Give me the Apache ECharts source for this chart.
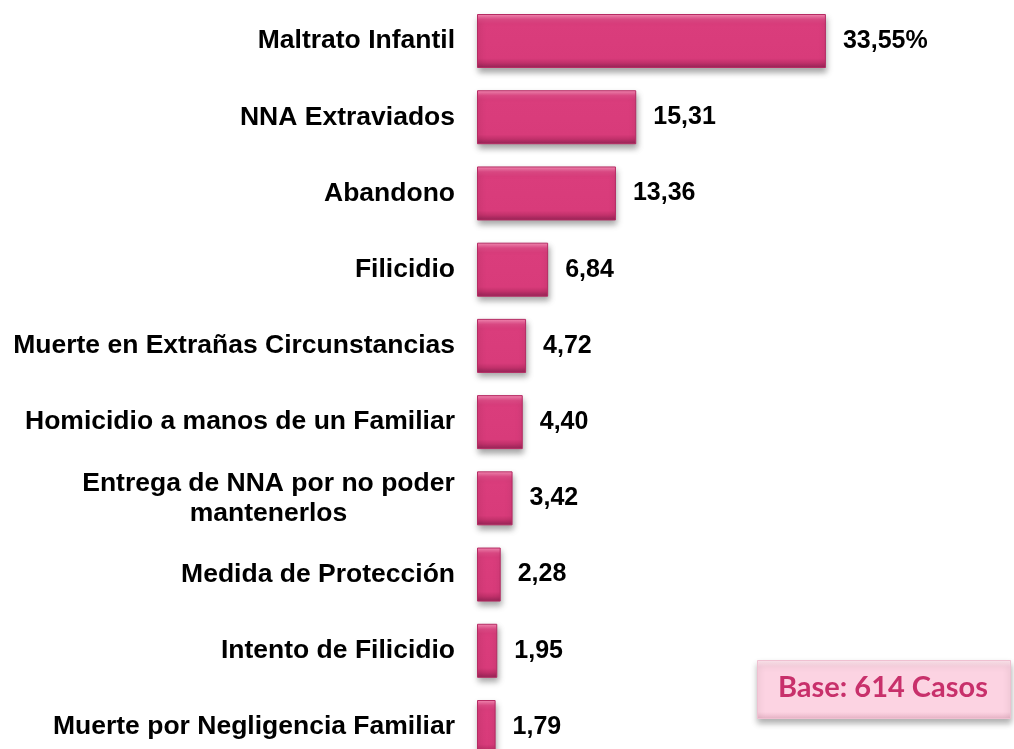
<!DOCTYPE html>
<html>
<head>
<meta charset="utf-8">
<script src="https://cdn.jsdelivr.net/npm/echarts@6/dist/echarts.min.js"></script>
<style>
  html, body { margin: 0; padding: 0; background: #ffffff; }
  #main { width: 1014px; height: 749px; }
</style>
</head>
<body>
<div id="main"></div>
<script>
// datos
var categorias = [
    'Maltrato Infantil',
    'NNA Extraviados',
    'Abandono',
    'Filicidio',
    'Muerte en Extrañas Circunstancias',
    'Homicidio a manos de un Familiar',
    'Entrega de NNA por no poder\nmantenerlos',
    'Medida de Protección',
    'Intento de Filicidio',
    'Muerte por Negligencia Familiar'
];
var valores = [33.55, 15.31, 13.36, 6.84, 4.72, 4.40, 3.42, 2.28, 1.95, 1.79];
var baseTexto = 'Base: 614 Casos';

var chart = echarts.init(document.getElementById('main'));

var barColor = new echarts.graphic.LinearGradient(0, 0, 0, 1, [
    { offset: 0, color: '#f78db6' },
    { offset: 0.1, color: '#e24b88' },
    { offset: 0.18, color: '#da3d7c' },
    { offset: 0.82, color: '#d83b7a' },
    { offset: 0.9, color: '#c2316b' },
    { offset: 1, color: '#952456' }
]);

var fuente = 'Liberation Sans, Arial, sans-serif';

var option = {
    backgroundColor: '#ffffff',
    animation: false,
    grid: {
        left: 477,
        top: 41,
        width: 416,
        height: 686,
        containLabel: false
    },
    xAxis: {
        type: 'value',
        min: 0,
        max: 40,
        show: false
    },
    yAxis: {
        type: 'category',
        inverse: true,
        boundaryGap: false,
        data: categorias,
        axisLine: { show: false },
        axisTick: { show: false },
        splitLine: { show: false },
        axisLabel: {
            margin: 22,
            color: '#000000',
            fontFamily: fuente,
            fontWeight: 'bold',
            fontSize: 26.5,
            lineHeight: 30,
            formatter: function (v) {
                if (v.indexOf('\n') > -1) {
                    return v.split('\n').map(function (l) { return '{c|' + l + '}'; }).join('\n');
                }
                return v;
            },
            rich: {
                c: {
                    width: 373,
                    align: 'center',
                    color: '#000000',
                    fontFamily: fuente,
                    fontWeight: 'bold',
                    fontSize: 26.5,
                    lineHeight: 30
                }
            }
        }
    },
    series: [
        {
            type: 'bar',
            data: valores,
            barWidth: 54,
            itemStyle: {
                color: barColor,
                borderColor: '#b52b63',
                borderWidth: 1,
                shadowColor: 'rgba(0,0,0,0.35)',
                shadowBlur: 6,
                shadowOffsetY: 4,
                shadowOffsetX: 1
            },
            label: {
                show: true,
                position: 'right',
                distance: 17,
                color: '#000000',
                fontFamily: fuente,
                fontWeight: 'bold',
                fontSize: 25,
                formatter: function (p) {
                    var s = p.value.toFixed(2).replace('.', ',');
                    return p.dataIndex === 0 ? s + '%' : s;
                }
            }
        }
    ],
    graphic: [
        {
            type: 'rect',
            left: 757,
            top: 660,
            shape: { width: 253, height: 58 },
            style: {
                fill: new echarts.graphic.LinearGradient(0, 0, 0, 1, [
                    { offset: 0, color: '#fde6ee' },
                    { offset: 0.12, color: '#fcd3e2' },
                    { offset: 0.88, color: '#fcd3e2' },
                    { offset: 1, color: '#e7b3c6' }
                ]),
                stroke: '#efc0d1',
                lineWidth: 1,
                shadowColor: 'rgba(0,0,0,0.3)',
                shadowBlur: 6,
                shadowOffsetY: 4
            }
        },
        {
            type: 'text',
            left: 778,
            top: 673,
            style: {
                text: baseTexto,
                fill: '#c8306b',
                font: 'bold 29px Lato, "Open Sans", sans-serif'
            }
        }
    ]
};

chart.setOption(option);
</script>
</body>
</html>
